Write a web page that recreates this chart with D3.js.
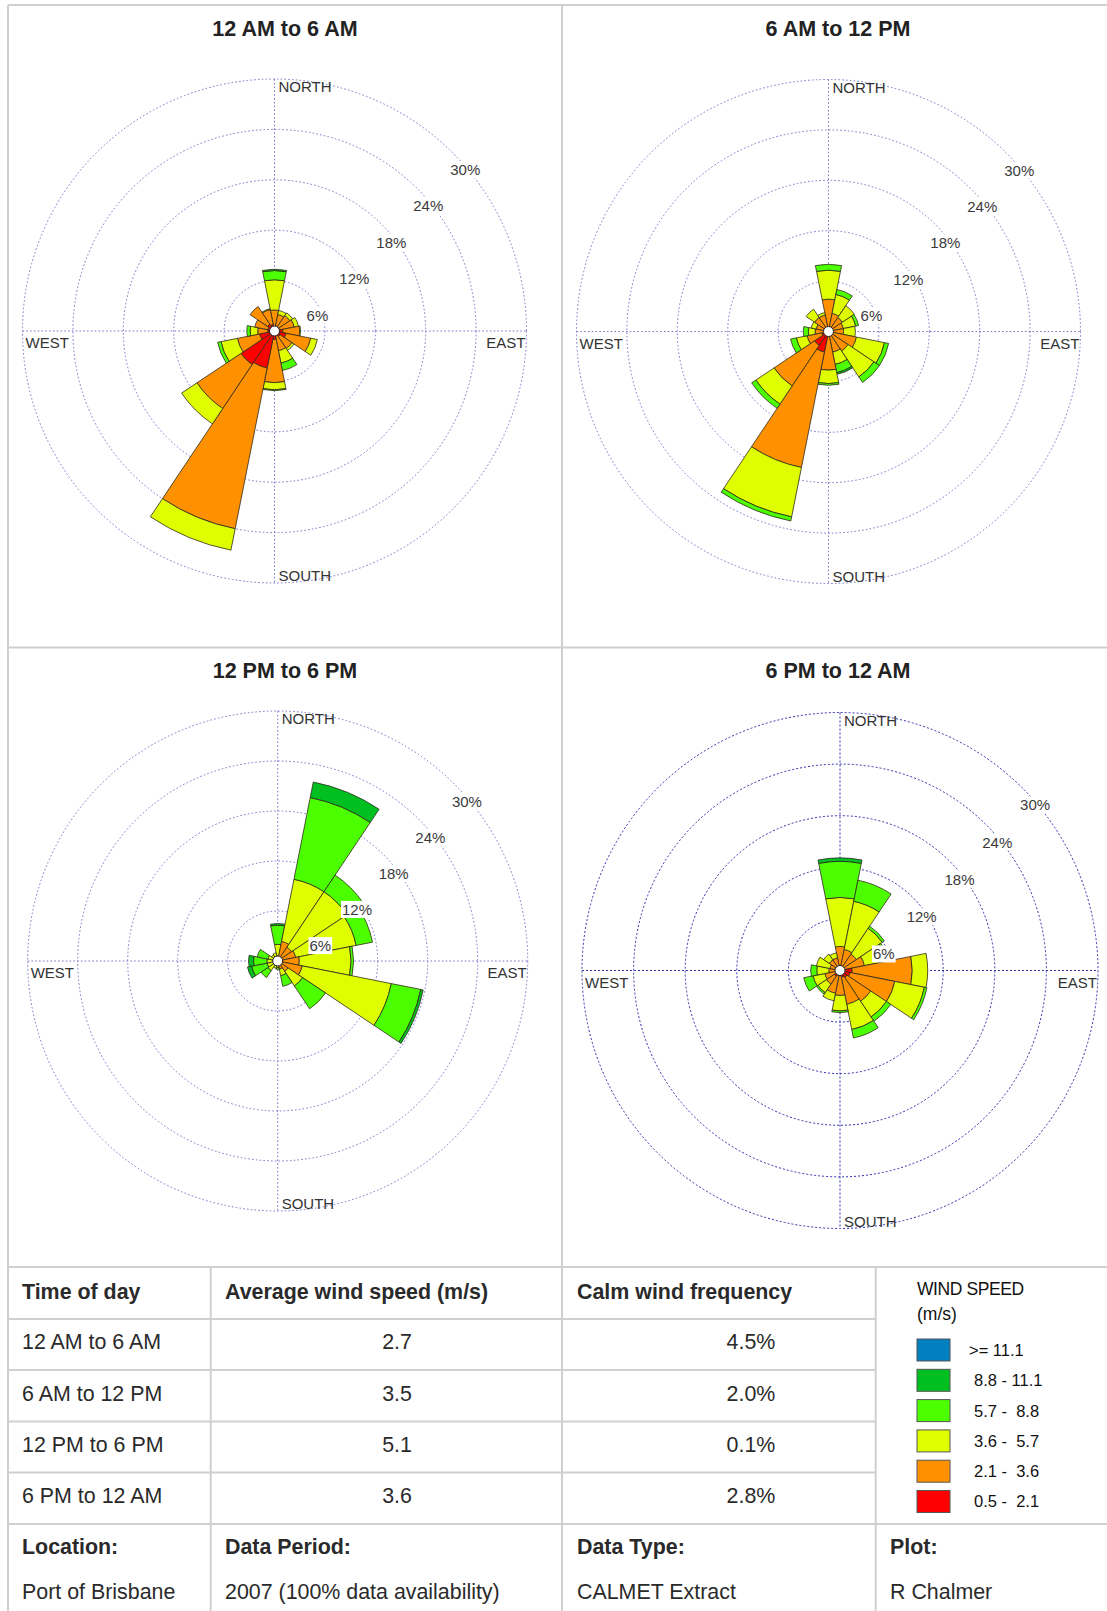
<!DOCTYPE html>
<html>
<head>
<meta charset="utf-8">
<script src="https://cdn.jsdelivr.net/npm/d3@7"></script>
<style>
  body { margin: 0; background: #fff; }
  svg { display: block; }
  text { font-family: "Liberation Sans", Arial, Helvetica, sans-serif; }
</style>
</head>
<body>
<svg id="chart" width="1107" height="1611"></svg>
<script>
// ---- data -------------------------------------------------------------
const directions = ["N","NNE","NE","ENE","E","ESE","SE","SSE","S","SSW","SW","WSW","W","WNW","NW","NNW"];
// speed classes, slowest first (m/s)
const speedClasses = ["0.5 -  2.1","2.1 -  3.6","3.6 -  5.7","5.7 -  8.8","8.8 - 11.1",">= 11.1"];
const classColors  = ["#ff0000","#ff9000","#dfff00","#4cff00","#00bf20","#0080c0"];
const periods  = ["12 AM to 6 AM","6 AM to 12 PM","12 PM to 6 PM","6 PM to 12 AM"];
const avgSpeed = ["2.7","3.5","5.1","3.6"];
const calmFreq = ["4.5%","2.0%","0.1%","2.8%"];
const ringTicks = [6, 12, 18, 24, 30];
const compassNames = ["NORTH","EAST","SOUTH","WEST"];

// frequency (%) per direction, one column per speed class (slowest first)
const freqNight = [
  [0.5, 2.0, 3.6, 1.1, 0.15, 0], [0.6, 1.4, 0.5, 0, 0, 0], [0.6, 1.6, 0.4, 0, 0, 0], [0.6, 1.8, 0.5, 0, 0, 0],
  [1.0, 2.0, 0.1, 0, 0, 0],      [1.4, 3.0, 0.8, 0, 0, 0], [0.8, 1.7, 0.3, 0, 0, 0], [0.6, 1.8, 1.5, 0.9, 0, 0],
  [1.0, 5.15, 0.85, 0.1, 0, 0],  [4.5, 19.5, 2.6, 0, 0, 0], [4.8, 6.3, 2.2, 0, 0, 0], [1.8, 2.7, 2.0, 0.4, 0, 0],
  [0.8, 1.2, 0.9, 0.4, 0, 0],    [0.8, 1.6, 0, 0, 0, 0],   [1.0, 2.5, 0, 0, 0, 0],   [0.8, 1.8, 0.1, 0, 0, 0]
];
const freqMorning = [
  [0.4, 3.45, 3.45, 0.7, 0, 0], [0.3, 1.9, 2.3, 0.6, 0, 0], [0.3, 1.7, 1.7, 0, 0, 0],   [0.3, 1.5, 1.5, 0.35, 0, 0],
  [0.3, 1.5, 1.4, 0, 0, 0],     [0.3, 3.1, 3.4, 0.5, 0, 0], [0.3, 2.5, 3.7, 0.8, 0, 0], [0.3, 2.2, 1.5, 1.0, 0.2, 0],
  [0.4, 4.2, 1.6, 0.2, 0, 0],   [2.5, 14.0, 6.0, 0.5, 0, 0], [2.0, 5.8, 2.6, 0.6, 0, 0], [0.8, 1.8, 1.3, 0.7, 0, 0],
  [0.4, 1.2, 0.8, 0.6, 0, 0],   [0.3, 1.2, 0.6, 0, 0, 0],   [0.3, 1.7, 1.2, 0, 0, 0],   [0.3, 1.7, 0.3, 0, 0, 0]
];
const freqAfternoon = [
  [0.1, 0.5, 1.4, 2.3, 0.2, 0], [0.2, 2.2, 7.6, 10.0, 1.9, 0], [0.2, 1.8, 8.0, 2.4, 0, 0], [0.3, 1.9, 7.4, 2.0, 0, 0],
  [0.3, 2.3, 6.2, 0.3, 0, 0],   [0.3, 2.7, 10.9, 3.6, 0.3, 0], [0.2, 1.3, 2.1, 3.3, 0, 0], [0.2, 0.8, 0.8, 1.3, 0, 0],
  [0.2, 0.3, 0.3, 0.2, 0, 0],   [0.1, 0.3, 0.5, 0, 0, 0],      [0.1, 0.3, 1.0, 1.0, 0, 0], [0.1, 0.3, 0.9, 1.9, 0.5, 0],
  [0.1, 0.2, 1.0, 1.6, 0.6, 0], [0.1, 0.2, 0.9, 1.3, 0, 0],    [0.1, 0.2, 0.6, 0, 0, 0],   [0.1, 0.3, 0.6, 0, 0, 0]
];
const freqEvening = [
  [0.3, 2.5, 5.7, 4.2, 0.4, 0], [0.3, 2.2, 5.7, 2.5, 0, 0], [0.3, 2.0, 3.6, 0.3, 0, 0], [0.4, 2.5, 2.6, 0.2, 0, 0],
  [1.4, 7.0, 1.8, 0, 0, 0],     [1.2, 5.3, 3.5, 0.3, 0, 0], [1.0, 3.3, 2.2, 0.6, 0, 0], [0.8, 3.2, 3.0, 1.0, 0, 0],
  [0.6, 2.3, 1.8, 0.2, 0, 0],   [0.6, 2.1, 0.9, 0, 0, 0],   [0.8, 1.1, 1.2, 0.2, 0, 0], [0.3, 1.5, 1.4, 1.1, 0, 0],
  [0.3, 1.0, 1.4, 0.7, 0, 0],   [0.3, 0.9, 1.6, 0, 0, 0],   [0.2, 1.3, 0.8, 0, 0, 0],   [0.2, 1.3, 0.6, 0, 0, 0]
];
const roseData = [freqNight, freqMorning, freqAfternoon, freqEvening];

// ---- layout -----------------------------------------------------------
const svg = d3.select("#chart");
const W = 1107, H = 1611;
const colX = [8, 210.7, 562, 875.7, 1107];
const rowY = [1267, 1319, 1370, 1421.5, 1472.5, 1524];
const roses = [
  { cx: 274.5, cy: 331,   R: 252, titleX: 285, titleY: 28,  grid: "#7676cc", dash: "1.6,2.2" },
  { cx: 828.5, cy: 331.5, R: 252, titleX: 838, titleY: 28,  grid: "#7676cc", dash: "1.6,2.2" },
  { cx: 277.7, cy: 961,   R: 250, titleX: 285, titleY: 670, grid: "#7676cc", dash: "1.6,2.2" },
  { cx: 840,   cy: 970.5, R: 258, titleX: 838, titleY: 670, grid: "#3030b0", dash: "2,2" }
];

svg.append("rect").attr("width", W).attr("height", H).attr("fill", "#fff");

// ---- wind roses -------------------------------------------------------
const sector = 2 * Math.PI / directions.length;
const arc = d3.arc();

roses.forEach((cfg, i) => {
  const g = svg.append("g").attr("transform", `translate(${cfg.cx},${cfg.cy})`);
  const r = d3.scaleLinear().domain([0, 30]).range([0, cfg.R]);

  // grid rings and cross-hair
  g.selectAll("circle.ring").data(ringTicks).join("circle")
    .attr("class", "ring").attr("r", d => r(d))
    .attr("fill", "none").attr("stroke", cfg.grid).attr("stroke-width", 1)
    .attr("stroke-dasharray", cfg.dash);
  const rmax = r(d3.max(ringTicks));
  g.append("line").attr("x1", -rmax).attr("x2", rmax).attr("y1", 0).attr("y2", 0)
    .attr("stroke", cfg.grid).attr("stroke-dasharray", cfg.dash);
  g.append("line").attr("x1", 0).attr("x2", 0).attr("y1", -rmax).attr("y2", rmax)
    .attr("stroke", cfg.grid).attr("stroke-dasharray", cfg.dash);

  // stacked petals
  const petals = [];
  roseData[i].forEach((row, di) => {
    let acc = 0;
    row.forEach((v, ci) => {
      if (v > 0) petals.push({ di, ci, lo: acc, hi: acc + v });
      acc += v;
    });
  });
  g.selectAll("path.petal").data(petals).join("path")
    .attr("class", "petal")
    .attr("d", d => arc({
      innerRadius: r(d.lo), outerRadius: r(d.hi),
      startAngle: d.di * sector - sector / 2, endAngle: d.di * sector + sector / 2
    }))
    .attr("fill", d => classColors[d.ci])
    .attr("stroke", "#2e2a1a").attr("stroke-width", 0.8).attr("stroke-linejoin", "round");

  // calm centre
  g.append("circle").attr("r", 5).attr("fill", "#fff").attr("stroke", "#222").attr("stroke-width", 1);

  // compass labels
  const addText = (txt, x, y, anchor) => g.append("text").text(txt)
    .attr("x", x).attr("y", y).attr("text-anchor", anchor)
    .style("font-size", "15px").style("fill", "#333");
  addText(compassNames[0], 4, -rmax + 13, "start");
  addText(compassNames[2], 4, rmax - 2, "start");
  addText(compassNames[3], -rmax + 3, 17, "start");
  addText(compassNames[1], rmax - 1, 17, "end");

  // ring labels along the north-east diagonal
  ringTicks.forEach(t => {
    const rr = r(t);
    const lx = rr * 0.733 + 6, ly = -rr * 0.723 + 21;
    const lab = g.append("g").attr("transform", `translate(${lx},${ly})`);
    const txt = lab.append("text").text(t + "%")
      .attr("text-anchor", "middle").attr("dy", "0.35em")
      .style("font-size", "15px").style("fill", "#3a3a3a");
    const bb = txt.node().getBBox();
    lab.insert("rect", "text").attr("x", bb.x - 1).attr("y", bb.y).attr("width", bb.width + 2).attr("height", bb.height)
      .attr("fill", "#fff");
  });

  // panel title
  svg.append("text").text(periods[i]).attr("x", cfg.titleX).attr("y", cfg.titleY).attr("dy", "0.35em")
    .attr("text-anchor", "middle").style("font-size", "21.5px").style("font-weight", "bold").style("fill", "#222");
});

// ---- frame ------------------------------------------------------------
const frame = svg.append("g").attr("stroke", "#cfcfcf").attr("stroke-width", 2);
const hline = (y, x1, x2) => frame.append("line").attr("x1", x1).attr("x2", x2).attr("y1", y).attr("y2", y);
const vline = (x, y1, y2) => frame.append("line").attr("x1", x).attr("x2", x).attr("y1", y1).attr("y2", y2);
hline(5, 8, W);
hline(647.5, 8, W);
hline(rowY[0], 8, W);
rowY.slice(1, 5).forEach(y => hline(y, 8, colX[3]));
hline(rowY[5], 8, W);
vline(8, 5, H);
vline(562, 5, H);
vline(colX[1], rowY[0], H);
vline(colX[3], rowY[0], H);

// ---- table ------------------------------------------------------------
const cell = (txt, x, y, opts = {}) => svg.append("text").text(txt).attr("x", x).attr("y", y).attr("dy", "0.35em")
  .attr("text-anchor", opts.anchor || "start")
  .style("font-size", "21.4px").style("font-weight", opts.bold ? "bold" : "normal").style("fill", "#2a2a2a");

const midY = k => (rowY[k] + rowY[k + 1]) / 2 - 2.5;
cell("Time of day", 22, midY(0) + 1.5, { bold: true });
cell("Average wind speed (m/s)", 225, midY(0) + 1.5, { bold: true });
cell("Calm wind frequency", 577, midY(0) + 1.5, { bold: true });
periods.forEach((p, k) => {
  cell(p, 22, midY(k + 1));
  cell(avgSpeed[k], 397, midY(k + 1), { anchor: "middle" });
  cell(calmFreq[k], 751, midY(k + 1), { anchor: "middle" });
});
cell("Location:", 22, 1547, { bold: true });
cell("Data Period:", 225, 1547, { bold: true });
cell("Data Type:", 577, 1547, { bold: true });
cell("Plot:", 890, 1547, { bold: true });
cell("Port of Brisbane", 22, 1592);
cell("2007 (100% data availability)", 225, 1592);
cell("CALMET Extract", 577, 1592);
cell("R Chalmer", 890, 1592);

// ---- legend -----------------------------------------------------------
const lg = svg.append("g");
lg.append("text").text("WIND SPEED").attr("x", 917).attr("y", 1295)
  .style("font-size", "17.5px").style("letter-spacing", "-0.4px").style("fill", "#111");
lg.append("text").text("(m/s)").attr("x", 917).attr("y", 1320)
  .style("font-size", "17.5px").style("fill", "#111");
const legendOrder = d3.range(speedClasses.length).reverse();
const ly = d3.scaleBand().domain(legendOrder).range([1339, 1339 + 30.3 * legendOrder.length]);
legendOrder.forEach(ci => {
  lg.append("rect").attr("x", 917).attr("y", ly(ci)).attr("width", 33).attr("height", 22)
    .attr("fill", classColors[ci]).attr("stroke", "#555").attr("stroke-width", 1);
  lg.append("text").text(speedClasses[ci]).attr("x", ci === 5 ? 969 : 974).attr("y", ly(ci) + 11).attr("dy", "0.36em")
    .style("font-size", "16.5px").style("fill", "#111").style("white-space", "pre");
});
</script>
</body>
</html>
